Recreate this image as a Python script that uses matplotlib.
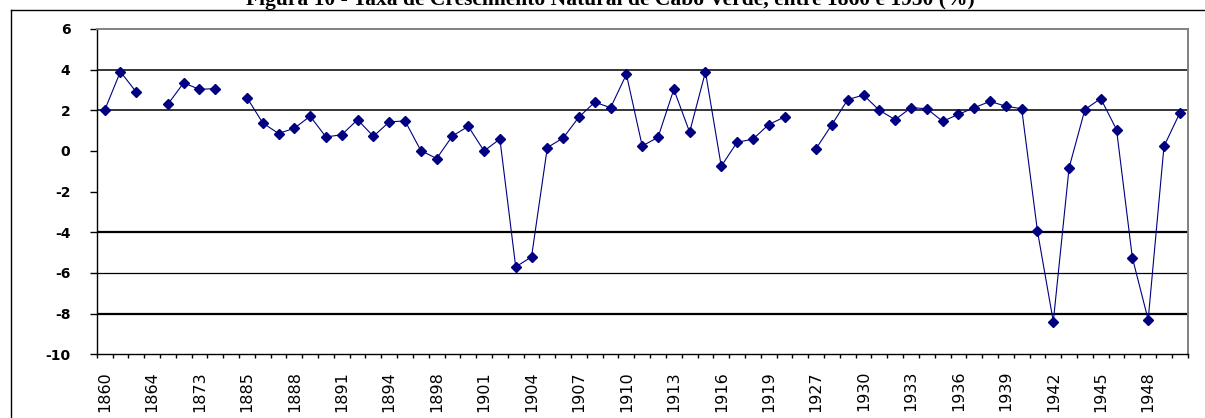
import numpy as np
import matplotlib
matplotlib.use("Agg")
from matplotlib import pyplot as plt
from matplotlib.lines import Line2D

# categories (years) as they appear on the category axis
years = [1860, 1861, 1862, 1864, 1866, 1867, 1873, 1874, 1880,
         1885, 1886, 1887, 1888, 1889, 1890, 1891, 1892, 1893, 1894,
         1896, 1897, 1898, 1899, 1900, 1901, 1902, 1903, 1904, 1905,
         1906, 1907, 1908, 1909, 1910, 1911, 1912, 1913, 1914, 1915,
         1916, 1917, 1918, 1919, 1920, 1921,
         1927, 1928, 1929, 1930, 1931, 1932, 1933, 1934, 1935, 1936,
         1937, 1938, 1939, 1940, 1941, 1942, 1943, 1944, 1945, 1946,
         1947, 1948, 1949, 1950]

# natural growth rate (%), nan = no data
rate = [2.0, 3.9, 2.9, np.nan, 2.3, 3.35, 3.03, 3.07, np.nan,
        2.63, 1.38, 0.86, 1.12, 1.71, 0.69, 0.8, 1.54, 0.72, 1.43,
        1.48, 0.02, -0.37, 0.74, 1.21, 0.0, 0.59, -5.7, -5.21, 0.17,
        0.64, 1.67, 2.4, 2.13, 3.77, 0.25, 0.67, 3.03, 0.93, 3.89,
        -0.75, 0.43, 0.58, 1.3, 1.67, np.nan,
        0.12, 1.3, 2.53, 2.75, 2.0, 1.54, 2.13, 2.08, 1.46, 1.8,
        2.13, 2.44, 2.2, 2.08, -3.95, -8.39, -0.82, 2.04, 2.58, 1.05,
        -5.25, -8.3, 0.23, 1.87]

title = "Figura 10 - Taxa de Crescimento Natural de Cabo Verde, entre 1860 e 1950 (%)"

W, H = 1205, 418
fig = plt.figure(figsize=(W / 100, H / 100), dpi=100)
ax = fig.add_axes([96.7 / W, 1 - 354.3 / H, (1187.7 - 96.7) / W, (354.3 - 29) / H])

x = np.arange(len(years))
ax.plot(x, rate, color="#000080", lw=0.8, marker="D", ms=5.5,
        mfc="#000080", mec="#000080", zorder=3)

# horizontal gridlines (only these survive in the original picture)
for lvl, w in [(4, 1.1), (2, 1.1), (-4, 1.6), (-6, 0.9), (-8, 1.6)]:
    ax.axhline(lvl, color="black", lw=w, zorder=1)

ax.set_xlim(-0.5, len(years) - 0.5)
ax.set_ylim(-10, 6)
ax.set_yticks(np.arange(-10, 7, 2))
ax.set_yticklabels([str(v) for v in range(-10, 7, 2)],
                   fontfamily="DejaVu Sans", fontweight="bold", fontsize=10)
ax.tick_params(axis="y", direction="out", length=5, width=1, pad=14)

# tick marks between categories, labels every third category
ax.set_xticks(np.arange(-0.5, len(years), 1.0))
ax.set_xticklabels([])
ax.tick_params(axis="x", which="major", direction="out", length=3, width=1)
ax.set_xticks(x[::3], minor=True)
ax.set_xticklabels([str(y) for y in years[::3]], minor=True, rotation=90,
                   fontfamily=["Liberation Sans Narrow", "DejaVu Sans"], fontsize=11.5)
ax.tick_params(axis="x", which="minor", length=0, pad=12)

for s in ["left", "bottom"]:
    ax.spines[s].set_color("black")
    ax.spines[s].set_linewidth(1.0)
for s in ["top", "right"]:
    ax.spines[s].set_color("#808080")
    ax.spines[s].set_linewidth(1.4)

# outer chart border and title (clipped at the top, as in the source)
fig.add_artist(Line2D([11 / W, 11 / W], [0, 1 - 10 / H], color="black", lw=1.0))
fig.add_artist(Line2D([11 / W, 1], [1 - 10 / H, 1 - 10 / H], color="black", lw=1.0))
fig.text(610 / W, 1 - 5 / H, title, ha="center", va="baseline",
         fontfamily="Liberation Serif", fontweight="bold", fontsize=15.5)

fig.savefig("out.png", dpi=100)
